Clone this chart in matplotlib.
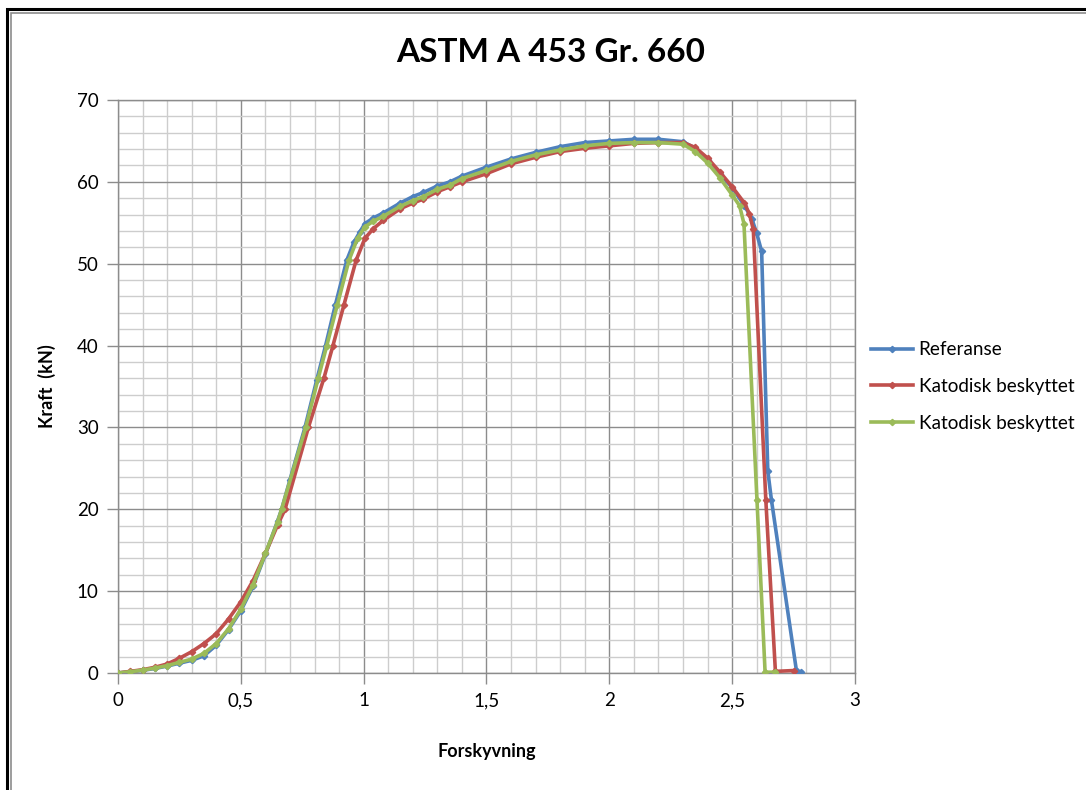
import matplotlib
matplotlib.use("Agg")
import matplotlib.pyplot as plt
from matplotlib.patches import Rectangle
from matplotlib.ticker import MultipleLocator, FuncFormatter

plt.rcParams['font.family'] = ['Lato', 'DejaVu Sans']

# Referanse (blue)
ref_x = [0, 0.05, 0.1, 0.15, 0.2, 0.25, 0.3, 0.35, 0.4, 0.45, 0.5, 0.55, 0.6, 0.65,
         0.666, 0.7, 0.761, 0.809, 0.845, 0.885, 0.931, 0.96, 0.985, 1.005, 1.04, 1.08, 1.148,
         1.2, 1.243, 1.3, 1.351, 1.4, 1.5, 1.6, 1.7, 1.8, 1.9, 2.0, 2.1, 2.2, 2.3,
         2.35, 2.4, 2.45, 2.5, 2.55, 2.58, 2.6, 2.62, 2.645, 2.66, 2.762, 2.782]
ref_y = [0, 0.15, 0.33, 0.55, 0.85, 1.2, 1.55, 2.1, 3.4, 5.3, 7.6, 10.6, 14.5, 18.6,
         20.0, 23.6, 30.0, 35.8, 40.0, 45.0, 50.4, 52.6, 53.9, 54.9, 55.6, 56.2, 57.4,
         58.2, 58.7, 59.5, 60.0, 60.7, 61.8, 62.8, 63.6, 64.3, 64.8, 65.0, 65.2, 65.2, 64.9,
         64.1, 62.7, 61.0, 59.3, 57.1, 55.5, 53.7, 51.5, 24.7, 21.1, 0.2, 0.1]

# Katodisk beskyttet (red)
red_x = [0, 0.05, 0.1, 0.15, 0.2, 0.25, 0.3, 0.35, 0.4, 0.45, 0.5, 0.55, 0.6, 0.65,
         0.68, 0.775, 0.838, 0.875, 0.92, 0.969, 1.005, 1.04, 1.08, 1.148, 1.2, 1.243,
         1.3, 1.351, 1.4, 1.5, 1.6, 1.7, 1.8, 1.9, 2.0, 2.1, 2.2, 2.3, 2.35, 2.4, 2.45,
         2.5, 2.55, 2.57, 2.586, 2.637, 2.676, 2.75]
red_y = [0, 0.2, 0.4, 0.7, 1.1, 1.8, 2.6, 3.6, 4.8, 6.6, 8.7, 11.3, 14.6, 18.1,
         20.0, 30.0, 36.0, 40.0, 45.0, 50.4, 53.1, 54.3, 55.3, 56.7, 57.4, 57.9,
         58.8, 59.4, 60.0, 61.0, 62.2, 63.0, 63.7, 64.1, 64.4, 64.7, 64.8, 64.8, 64.2, 62.9, 61.2,
         59.4, 57.4, 56.1, 54.2, 21.1, 0.2, 0.3]

# Katodisk beskyttet (green)
grn_x = [0, 0.05, 0.1, 0.15, 0.2, 0.25, 0.3, 0.35, 0.4, 0.45, 0.5, 0.55, 0.6, 0.65,
         0.666, 0.764, 0.815, 0.85, 0.893, 0.94, 0.975, 1.005, 1.04, 1.08, 1.148, 1.2,
         1.243, 1.3, 1.351, 1.4, 1.5, 1.6, 1.7, 1.8, 1.9, 2.0, 2.1, 2.2, 2.3, 2.35,
         2.4, 2.45, 2.5, 2.53, 2.548, 2.601, 2.634, 2.676]
grn_y = [0, 0.15, 0.35, 0.6, 0.9, 1.3, 1.7, 2.4, 3.6, 5.4, 7.8, 10.8, 14.6, 18.5,
         20.0, 30.0, 36.0, 40.0, 45.0, 50.4, 53.1, 54.5, 55.2, 55.8, 57.0, 57.7,
         58.2, 59.1, 59.6, 60.4, 61.4, 62.5, 63.3, 63.9, 64.4, 64.7, 64.8, 64.8, 64.6, 63.7,
         62.3, 60.5, 58.4, 57.1, 54.9, 21.1, 0.1, 0.1]

series = [
    ("Referanse", ref_x, ref_y, "#4F81BD"),
    ("Katodisk beskyttet", red_x, red_y, "#C0504D"),
    ("Katodisk beskyttet", grn_x, grn_y, "#9BBB59"),
]

fig = plt.figure(figsize=(10.86, 7.90), dpi=100)
ax = fig.add_axes([118 / 1086, 1 - 673 / 790, 737 / 1086, 573 / 790])

for label, xs, ys, col in series:
    ax.plot(xs, ys, color=col, lw=2.6, marker='D', ms=3.2, mec=col, mfc=col,
            label=label, zorder=3)

ax.set_xlim(0, 3)
ax.set_ylim(0, 70)
ax.xaxis.set_major_locator(MultipleLocator(0.5))
ax.xaxis.set_minor_locator(MultipleLocator(0.1))
ax.yaxis.set_major_locator(MultipleLocator(10))
ax.yaxis.set_minor_locator(MultipleLocator(2))
ax.xaxis.set_major_formatter(FuncFormatter(lambda v, p: f"{v:g}".replace(".", ",")))
ax.grid(which='major', color='#8c8c8c', lw=1.0, zorder=1)
ax.grid(which='minor', color='#cdcdcd', lw=1.0, zorder=0)
ax.set_axisbelow(True)
ax.tick_params(which='major', length=8, width=1, color='#8c8c8c', labelsize=13.5,
               direction='out', pad=6)
ax.tick_params(which='minor', length=0)
for s in ax.spines.values():
    s.set_color('#8c8c8c')
    s.set_linewidth(1)

ax.set_xlabel("Forskyvning", fontsize=13, fontweight='bold', labelpad=24)
ax.set_ylabel("Kraft  (kN)", fontsize=13, fontweight='bold', labelpad=15)

fig.text(551 / 1086, 1 - 52 / 790, "ASTM A 453 Gr. 660", fontsize=24,
         fontweight='bold', ha='center', va='center')

ax.legend(loc='center left', bbox_to_anchor=(1.012, 0.5), frameon=False,
          fontsize=13.6, handlelength=2.2, labelspacing=1.05, handletextpad=0.3,
          borderaxespad=0)

# Excel-style outer frame
fig.patches.append(Rectangle((7 / 1086, -0.1), 1.2, 1 - 9 / 790 + 0.1,
                             transform=fig.transFigure, fill=False,
                             edgecolor='black', lw=2.2))
fig.patches.append(Rectangle((11 / 1086, -0.1), 1.2, 1 - 13 / 790 + 0.1,
                             transform=fig.transFigure, fill=False,
                             edgecolor='#8c8c8c', lw=1.2))

fig.savefig("out.png", dpi=100)
